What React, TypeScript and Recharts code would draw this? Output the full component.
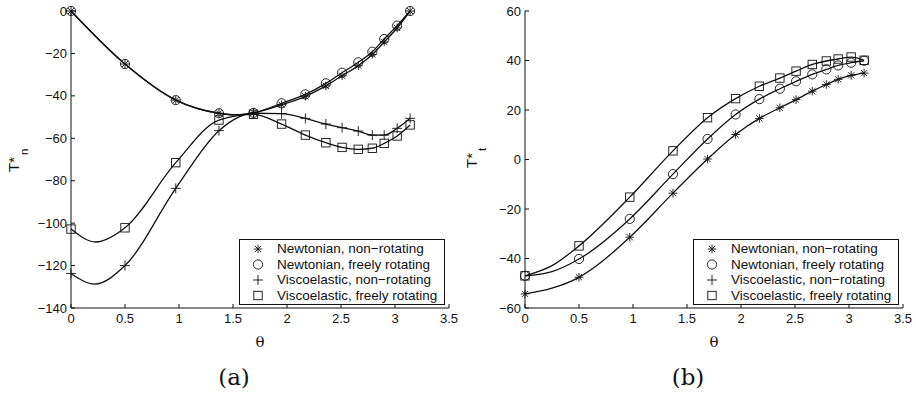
import { ComposedChart, Line, Scatter, XAxis, YAxis } from "recharts";

// angular positions of the markers (same for every series)
const theta = [0, 0.5, 0.97, 1.37, 1.69, 1.95, 2.17, 2.36, 2.51, 2.66, 2.79, 2.9, 3.02, 3.14];

// (a) normal traction T*_n
const nNewtonNonRot = [0, -25, -42, -48.2, -48, -44.2, -40.2, -35.3, -30.5, -25.8, -20.5, -14.6, -8, 0];
const nNewtonFree = [0, -25, -42, -48.2, -48, -43.5, -39.3, -34.1, -29.1, -24.2, -19.2, -13.2, -6.9, 0];
const nViscoNonRot = [-123.7, -120, -83.6, -56.4, -48.2, -48.4, -50.6, -53.3, -55, -56.6, -58.5, -58.5, -55.3, -50.6];
const nViscoFree = [-102.8, -102.2, -71.5, -51.4, -48.7, -53.3, -58.5, -62.1, -64.3, -65.2, -64.7, -62.4, -58.9, -53.7];
// points of the smooth curves that fall between markers
const nNewtonCurveExtra = [[1.52, -49]];
const nViscoNonRotCurveExtra = [[0.22, -128.7]];
const nViscoFreeCurveExtra = [[0.23, -108.9]];

// (b) tangential traction T*_t
const tNewtonNonRot = [-54.3, -47.6, -31.4, -13.6, 0.2, 10.1, 16.6, 20.9, 24.2, 27.6, 30.3, 32.4, 34, 34.9];
const tNewtonFree = [-47, -40.2, -24, -5.9, 8.3, 18.2, 24.4, 28.6, 31.6, 34.4, 36.4, 38, 39.1, 39.9];
const tViscoFree = [-47, -34.9, -15.2, 3.5, 16.9, 24.6, 29.6, 32.9, 35.7, 38.4, 39.8, 40.6, 41.4, 40.1];
const tNewtonNonRotCurveExtra = [[0.25, -52]];
const tNewtonFreeCurveExtra = [[0.25, -45.3]];
const tViscoFreeCurveExtra = [[0.25, -42.9]];

const xTicks = [0, 0.5, 1, 1.5, 2, 2.5, 3, 3.5];
const nTicks = [-140, -120, -100, -80, -60, -40, -20, 0];
const tTicks = [-60, -40, -20, 0, 20, 40, 60];

const legendNames = [
  "Newtonian, non\u2212rotating",
  "Newtonian, freely rotating",
  "Viscoelastic, non\u2212rotating",
  "Viscoelastic, freely rotating",
];

const INK = "#111";
const SANS = '"Liberation Sans", Arial, Helvetica, sans-serif';
const SERIF = '"DejaVu Serif", "Liberation Serif", serif';
const TICK = 4;

const markers = (ys: number[]) => theta.map((x, i) => ({ x, y: ys[i] }));
const curve = (ys: number[], extra: number[][]) =>
  [...markers(ys), ...extra.map(([x, y]) => ({ x, y }))].sort((a, b) => a.x - b.x);

const fmt = (v: number) => (v < 0 ? "\u2212" + Math.abs(v) : String(v));

// ---- marker glyphs ----
const Star = ({ cx, cy }: any) => {
  const r = 4.3;
  const d = r * 0.72;
  return (
    <g stroke={INK} strokeWidth={0.9}>
      <line x1={cx - r} y1={cy} x2={cx + r} y2={cy} />
      <line x1={cx} y1={cy - r} x2={cx} y2={cy + r} />
      <line x1={cx - d} y1={cy - d} x2={cx + d} y2={cy + d} />
      <line x1={cx - d} y1={cy + d} x2={cx + d} y2={cy - d} />
    </g>
  );
};
const Ring = ({ cx, cy }: any) => <circle cx={cx} cy={cy} r={4.6} fill="none" stroke={INK} strokeWidth={0.9} />;
const Plus = ({ cx, cy }: any) => (
  <g stroke={INK} strokeWidth={0.9}>
    <line x1={cx - 5} y1={cy} x2={cx + 5} y2={cy} />
    <line x1={cx} y1={cy - 5} x2={cx} y2={cy + 5} />
  </g>
);
const Box = ({ cx, cy }: any) => (
  <rect x={cx - 4.2} y={cy - 4.2} width={8.4} height={8.4} fill="none" stroke={INK} strokeWidth={0.9} />
);
const glyphs = [Star, Ring, Plus, Box];

// ---- inward matlab-style ticks ----
const BottomTick = (p: any) => (
  <g>
    <line x1={p.x} y1={p.y} x2={p.x} y2={p.y - TICK} stroke={INK} />
    <text x={p.x} y={p.y + 14.5} textAnchor="middle" fontFamily={SANS} fontSize={13} fill={INK}>
      {fmt(p.payload.value)}
    </text>
  </g>
);
const TopTick = (p: any) => <line x1={p.x} y1={p.y} x2={p.x} y2={p.y + TICK} stroke={INK} />;
const LeftTick = (p: any) => (
  <g>
    <line x1={p.x} y1={p.y} x2={p.x + TICK} y2={p.y} stroke={INK} />
    <text x={p.x - 4} y={p.y + 4.6} textAnchor="end" fontFamily={SANS} fontSize={13} fill={INK}>
      {fmt(p.payload.value)}
    </text>
  </g>
);
const RightTick = (p: any) => <line x1={p.x} y1={p.y} x2={p.x - TICK} y2={p.y} stroke={INK} />;

const YTitle = ({ sub, startY }: any) => (
  <text
    x={19}
    y={startY}
    transform={`rotate(-90, 19, ${startY})`}
    fontFamily={SANS}
    fontSize={15}
    fill={INK}
  >
    T*
    <tspan dy={9} dx={2} fontSize={11.5}>
      {sub}
    </tspan>
  </text>
);
const XTitle = ({ viewBox }: any) => (
  <text
    x={viewBox.x + viewBox.width / 2}
    y={viewBox.y + 38.5}
    textAnchor="middle"
    fontFamily={SERIF}
    fontSize={15}
    fill={INK}
  >
    θ
  </text>
);

type Series = { pts: { x: number; y: number }[]; line: { x: number; y: number }[]; glyph: number };

const Panel = ({ series, domain, ticks, sub, titleY, marginLeft, marginRight }: any) => (
  <ComposedChart width={458} height={396} margin={{ top: 11, right: marginRight, bottom: 58, left: marginLeft }}>
    <XAxis
      xAxisId="b"
      dataKey="x"
      type="number"
      domain={[0, 3.5]}
      ticks={xTicks}
      interval={0}
      height={30}
      tickSize={0}
      tickMargin={0}
      tickLine={false}
      tick={<BottomTick />}
      axisLine={{ stroke: INK }}
      label={<XTitle />}
    />
    <XAxis
      xAxisId="t"
      orientation="top"
      dataKey="x"
      type="number"
      domain={[0, 3.5]}
      ticks={xTicks}
      interval={0}
      height={0}
      tickSize={0}
      tickMargin={0}
      tickLine={false}
      tick={<TopTick />}
      axisLine={{ stroke: INK }}
    />
    <YAxis
      yAxisId="l"
      type="number"
      domain={domain}
      ticks={ticks}
      interval={0}
      width={60}
      tickSize={0}
      tickMargin={0}
      tickLine={false}
      tick={<LeftTick />}
      axisLine={{ stroke: INK }}
      label={<YTitle sub={sub} startY={titleY} />}
    />
    <YAxis
      yAxisId="r"
      orientation="right"
      type="number"
      domain={domain}
      ticks={ticks}
      interval={0}
      width={0}
      tickSize={0}
      tickMargin={0}
      tickLine={false}
      tick={<RightTick />}
      axisLine={{ stroke: INK }}
    />
    {series.map((s: Series, i: number) => (
      <Line
        key={"l" + i}
        xAxisId="b"
        yAxisId="l"
        data={s.line}
        dataKey="y"
        type="monotone"
        stroke={INK}
        strokeWidth={1.3}
        dot={false}
        activeDot={false}
        isAnimationActive={false}
      />
    ))}
    {series.map((s: Series, i: number) => {
      const G = glyphs[s.glyph];
      return (
        <Scatter
          key={"s" + i}
          xAxisId="b"
          yAxisId="l"
          data={s.pts}
          dataKey="y"
          shape={(p: any) => <G cx={p.cx} cy={p.cy} />}
          isAnimationActive={false}
        />
      );
    })}
  </ComposedChart>
);

const Legend = ({ left }: { left: number }) => (
  <svg width={206} height={66} style={{ position: "absolute", left, top: 239 }}>
    <rect x={0.5} y={0.5} width={205} height={65} fill="#fff" stroke={INK} strokeWidth={1} />
    {legendNames.map((name, i) => {
      const G = glyphs[i];
      return (
        <g key={name}>
          <G cx={19} cy={10 + i * 15.5} />
          <text x={38} y={14.3 + i * 15.5} fontFamily={SANS} fontSize={13.5} fill={INK}>
            {name}
          </text>
        </g>
      );
    })}
  </svg>
);

const seriesA: Series[] = [
  { pts: markers(nNewtonNonRot), line: curve(nNewtonNonRot, nNewtonCurveExtra), glyph: 0 },
  { pts: markers(nNewtonFree), line: curve(nNewtonFree, nNewtonCurveExtra), glyph: 1 },
  { pts: markers(nViscoNonRot), line: curve(nViscoNonRot, nViscoNonRotCurveExtra), glyph: 2 },
  { pts: markers(nViscoFree), line: curve(nViscoFree, nViscoFreeCurveExtra), glyph: 3 },
];
const seriesB: Series[] = [
  { pts: markers(tNewtonNonRot), line: curve(tNewtonNonRot, tNewtonNonRotCurveExtra), glyph: 0 },
  { pts: markers(tNewtonFree), line: curve(tNewtonFree, tNewtonFreeCurveExtra), glyph: 1 },
  { pts: markers(tViscoFree), line: curve(tViscoFree, tViscoFreeCurveExtra), glyph: 3 },
];

const caption = (text: string, cx: number) => (
  <div
    style={{
      position: "absolute",
      left: cx - 40,
      width: 80,
      top: 362,
      textAlign: "center",
      fontFamily: SERIF,
      fontSize: 23,
      lineHeight: "30px",
      color: INK,
    }}
  >
    {text}
  </div>
);

export default function App() {
  return (
    <div style={{ position: "absolute", left: 0, top: 0, width: 916, height: 396, background: "#fff", overflow: "hidden" }}>
      <div style={{ position: "absolute", left: 0, top: 0 }}>
        <Panel series={seriesA} domain={[-140, 0]} ticks={nTicks} sub="n" titleY={172} marginLeft={11} marginRight={9} />
      </div>
      <div style={{ position: "absolute", left: 458, top: 0 }}>
        <Panel series={seriesB} domain={[-60, 60]} ticks={tTicks} sub="t" titleY={168} marginLeft={7} marginRight={13} />
      </div>
      <Legend left={239} />
      <Legend left={693} />
      {caption("(a)", 234)}
      {caption("(b)", 688)}
    </div>
  );
}
